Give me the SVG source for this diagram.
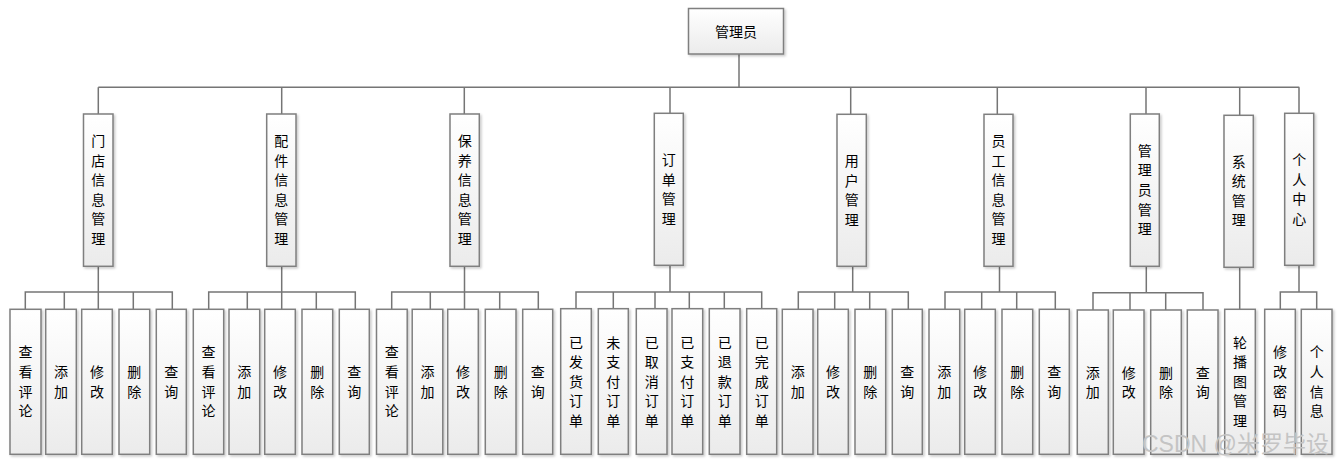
<svg xmlns="http://www.w3.org/2000/svg" width="1342" height="465" viewBox="0 0 1342 465">
<style>
.b{fill:url(#g);stroke:#7f7f7f;stroke-width:1.5;filter:url(#sh)}
.t{font-family:"Noto Sans CJK SC",sans-serif;font-size:14px;fill:#000;text-anchor:middle}
.c{fill:none;stroke:#757575;stroke-width:1.5}
.w{font-family:"Liberation Sans","Noto Sans CJK SC",sans-serif;font-size:23px;fill:#c4c4c4}
</style>
<defs>
<linearGradient id="g" x1="0" y1="0" x2="0" y2="1"><stop offset="0" stop-color="#ffffff"/><stop offset="1" stop-color="#ebebeb"/></linearGradient>
<filter id="sh" x="-30%" y="-10%" width="160%" height="130%"><feDropShadow dx="1.5" dy="1.5" stdDeviation="1" flood-color="#000" flood-opacity="0.22"/></filter>
</defs>
<rect width="1342" height="465" fill="#fff"/>
<g id="connectors" class="c">
<path class="c" d="M739 54V87.3M98.3 87.3H1299.3M98.3 87.3V114M281.7 87.3V114M464.3 87.3V114M670 87.3V113.3M850.7 87.3V114.3M997.3 87.3V114.3M1146 87.3V114M1239.7 87.3V115.3M1299 87.3V113.3"/>
<path class="c" d="M98.3 266.3V309.3M25.3 309.3V292H172.3V309.3M64.3 292V309.3M133.3 292V309.3"/>
<path class="c" d="M281.7 266.3V309.3M208.7 309.3V292H355.3V309.3M247.3 292V309.3M316.3 292V309.3"/>
<path class="c" d="M464.5 266.3V309.3M391.7 309.3V292H538.3V309.3M430.3 292V309.3M499.7 292V309.3"/>
<path class="c" d="M670 265.3V292M576 308.7V292H761.7V308.7M613.3 292V308.7M655 292V308.7M689.3 292V308.7M724.3 292V308.7"/>
<path class="c" d="M852.7 266.3V292M798.3 309.3V292H908.3V309.3M834.7 292V309.3M869.7 292V309.3"/>
<path class="c" d="M999.5 266.3V292M945 309.3V292H1055.3V309.3M981.7 292V309.3M1016.7 292V309.3"/>
<path class="c" d="M1146.3 266.3V292.7M1093 310V292.7H1203V310M1130 292.7V310M1165.7 292.7V310"/>
<path class="c" d="M1239.7 267.3V309.3"/>
<path class="c" d="M1299 265.3V292M1280.3 309.3V292H1316.7V309.3"/>
</g>
<g id="root"><rect class="b" x="688.5" y="8.5" width="95" height="45.5"/><text class="t" x="736" y="36.7">管理员</text></g>

<g id="n-mendian"><rect class="b" x="83.5" y="114" width="29.5" height="152.3"/><text class="t" x="98.25" y="146">门<tspan x="98.25" dy="19.6">店</tspan><tspan x="98.25" dy="19.6">信</tspan><tspan x="98.25" dy="19.6">息</tspan><tspan x="98.25" dy="19.6">管</tspan><tspan x="98.25" dy="19.6">理</tspan></text></g>
<g id="n-peijian"><rect class="b" x="266.7" y="114" width="29.3" height="152.3"/><text class="t" x="281.35" y="146">配<tspan x="281.35" dy="19.6">件</tspan><tspan x="281.35" dy="19.6">信</tspan><tspan x="281.35" dy="19.6">息</tspan><tspan x="281.35" dy="19.6">管</tspan><tspan x="281.35" dy="19.6">理</tspan></text></g>
<g id="n-baoyang"><rect class="b" x="450" y="114" width="29.3" height="152.3"/><text class="t" x="464.65" y="146">保<tspan x="464.65" dy="19.6">养</tspan><tspan x="464.65" dy="19.6">信</tspan><tspan x="464.65" dy="19.6">息</tspan><tspan x="464.65" dy="19.6">管</tspan><tspan x="464.65" dy="19.6">理</tspan></text></g>
<g id="n-dingdan"><rect class="b" x="654.3" y="113.3" width="29" height="152"/><text class="t" x="668.8" y="165.1">订<tspan x="668.8" dy="19.6">单</tspan><tspan x="668.8" dy="19.6">管</tspan><tspan x="668.8" dy="19.6">理</tspan></text></g>
<g id="n-yonghu"><rect class="b" x="837" y="114.3" width="29.3" height="152"/><text class="t" x="851.65" y="166">用<tspan x="851.65" dy="19.6">户</tspan><tspan x="851.65" dy="19.6">管</tspan><tspan x="851.65" dy="19.6">理</tspan></text></g>
<g id="n-yuangong"><rect class="b" x="984" y="114.3" width="29" height="152"/><text class="t" x="998.5" y="146">员<tspan x="998.5" dy="19.6">工</tspan><tspan x="998.5" dy="19.6">信</tspan><tspan x="998.5" dy="19.6">息</tspan><tspan x="998.5" dy="19.6">管</tspan><tspan x="998.5" dy="19.6">理</tspan></text></g>
<g id="n-guanliyuan"><rect class="b" x="1130.3" y="114" width="29" height="152.3"/><text class="t" x="1144.8" y="155.8">管<tspan x="1144.8" dy="19.6">理</tspan><tspan x="1144.8" dy="19.6">员</tspan><tspan x="1144.8" dy="19.6">管</tspan><tspan x="1144.8" dy="19.6">理</tspan></text></g>
<g id="n-xitong"><rect class="b" x="1224" y="115.3" width="29.3" height="152"/><text class="t" x="1238.65" y="166.5">系<tspan x="1238.65" dy="19.6">统</tspan><tspan x="1238.65" dy="19.6">管</tspan><tspan x="1238.65" dy="19.6">理</tspan></text></g>
<g id="n-geren"><rect class="b" x="1284.7" y="113.3" width="29" height="152"/><text class="t" x="1299.2" y="165">个<tspan x="1299.2" dy="19.6">人</tspan><tspan x="1299.2" dy="19.6">中</tspan><tspan x="1299.2" dy="19.6">心</tspan></text></g>

<g id="g1-1"><rect class="b" x="10" y="309.3" width="31" height="145"/><text class="t" x="25.5" y="357.4">查<tspan x="25.5" dy="19.6">看</tspan><tspan x="25.5" dy="19.6">评</tspan><tspan x="25.5" dy="19.6">论</tspan></text></g>
<g id="g1-2"><rect class="b" x="45.7" y="309.3" width="30.6" height="145"/><text class="t" x="61" y="377">添<tspan x="61" dy="19.6">加</tspan></text></g>
<g id="g1-3"><rect class="b" x="81.7" y="309.3" width="30.6" height="145"/><text class="t" x="97" y="377">修<tspan x="97" dy="19.6">改</tspan></text></g>
<g id="g1-4"><rect class="b" x="119" y="309.3" width="30.7" height="145"/><text class="t" x="134.35" y="377">删<tspan x="134.35" dy="19.6">除</tspan></text></g>
<g id="g1-5"><rect class="b" x="156.3" y="309.3" width="30" height="145"/><text class="t" x="171.3" y="377">查<tspan x="171.3" dy="19.6">询</tspan></text></g>

<g id="g2-1"><rect class="b" x="193.3" y="309.3" width="30.4" height="145"/><text class="t" x="208.5" y="357.4">查<tspan x="208.5" dy="19.6">看</tspan><tspan x="208.5" dy="19.6">评</tspan><tspan x="208.5" dy="19.6">论</tspan></text></g>
<g id="g2-2"><rect class="b" x="229" y="309.3" width="30.7" height="145"/><text class="t" x="244.35" y="377">添<tspan x="244.35" dy="19.6">加</tspan></text></g>
<g id="g2-3"><rect class="b" x="264.7" y="309.3" width="30.6" height="145"/><text class="t" x="280" y="377">修<tspan x="280" dy="19.6">改</tspan></text></g>
<g id="g2-4"><rect class="b" x="302" y="309.3" width="30.7" height="145"/><text class="t" x="317.35" y="377">删<tspan x="317.35" dy="19.6">除</tspan></text></g>
<g id="g2-5"><rect class="b" x="339.3" y="309.3" width="30" height="145"/><text class="t" x="354.3" y="377">查<tspan x="354.3" dy="19.6">询</tspan></text></g>

<g id="g3-1"><rect class="b" x="376.5" y="309.3" width="30.7" height="145"/><text class="t" x="391.85" y="357.4">查<tspan x="391.85" dy="19.6">看</tspan><tspan x="391.85" dy="19.6">评</tspan><tspan x="391.85" dy="19.6">论</tspan></text></g>
<g id="g3-2"><rect class="b" x="412.2" y="309.3" width="30.6" height="145"/><text class="t" x="427.5" y="377">添<tspan x="427.5" dy="19.6">加</tspan></text></g>
<g id="g3-3"><rect class="b" x="447.7" y="309.3" width="30.6" height="145"/><text class="t" x="463" y="377">修<tspan x="463" dy="19.6">改</tspan></text></g>
<g id="g3-4"><rect class="b" x="485.3" y="309.3" width="30.7" height="145"/><text class="t" x="500.65" y="377">删<tspan x="500.65" dy="19.6">除</tspan></text></g>
<g id="g3-5"><rect class="b" x="522.7" y="309.3" width="30" height="145"/><text class="t" x="537.7" y="377">查<tspan x="537.7" dy="19.6">询</tspan></text></g>

<g id="g4-1"><rect class="b" x="560.7" y="308.7" width="30.6" height="145.6"/><text class="t" x="576" y="347.6">已<tspan x="576" dy="19.6">发</tspan><tspan x="576" dy="19.6">货</tspan><tspan x="576" dy="19.6">订</tspan><tspan x="576" dy="19.6">单</tspan></text></g>
<g id="g4-2"><rect class="b" x="598.3" y="308.7" width="30" height="145.6"/><text class="t" x="613.3" y="347.6">未<tspan x="613.3" dy="19.6">支</tspan><tspan x="613.3" dy="19.6">付</tspan><tspan x="613.3" dy="19.6">订</tspan><tspan x="613.3" dy="19.6">单</tspan></text></g>
<g id="g4-3"><rect class="b" x="636.3" y="308.7" width="30.7" height="145.6"/><text class="t" x="651.65" y="347.6">已<tspan x="651.65" dy="19.6">取</tspan><tspan x="651.65" dy="19.6">消</tspan><tspan x="651.65" dy="19.6">订</tspan><tspan x="651.65" dy="19.6">单</tspan></text></g>
<g id="g4-4"><rect class="b" x="672" y="308.7" width="30.7" height="145.6"/><text class="t" x="687.35" y="347.6">已<tspan x="687.35" dy="19.6">支</tspan><tspan x="687.35" dy="19.6">付</tspan><tspan x="687.35" dy="19.6">订</tspan><tspan x="687.35" dy="19.6">单</tspan></text></g>
<g id="g4-5"><rect class="b" x="709.3" y="308.7" width="30.7" height="145.6"/><text class="t" x="724.65" y="347.6">已<tspan x="724.65" dy="19.6">退</tspan><tspan x="724.65" dy="19.6">款</tspan><tspan x="724.65" dy="19.6">订</tspan><tspan x="724.65" dy="19.6">单</tspan></text></g>
<g id="g4-6"><rect class="b" x="746.7" y="308.7" width="30" height="145.6"/><text class="t" x="761.7" y="347.6">已<tspan x="761.7" dy="19.6">完</tspan><tspan x="761.7" dy="19.6">成</tspan><tspan x="761.7" dy="19.6">订</tspan><tspan x="761.7" dy="19.6">单</tspan></text></g>

<g id="g5-1"><rect class="b" x="782.3" y="309.3" width="30.7" height="145"/><text class="t" x="797.65" y="377">添<tspan x="797.65" dy="19.6">加</tspan></text></g>
<g id="g5-2"><rect class="b" x="817.7" y="309.3" width="30.6" height="145"/><text class="t" x="833" y="377">修<tspan x="833" dy="19.6">改</tspan></text></g>
<g id="g5-3"><rect class="b" x="855" y="309.3" width="30.7" height="145"/><text class="t" x="870.35" y="377">删<tspan x="870.35" dy="19.6">除</tspan></text></g>
<g id="g5-4"><rect class="b" x="892.3" y="309.3" width="30" height="145"/><text class="t" x="907.3" y="377">查<tspan x="907.3" dy="19.6">询</tspan></text></g>

<g id="g6-1"><rect class="b" x="929" y="309.3" width="30.7" height="145"/><text class="t" x="944.35" y="377">添<tspan x="944.35" dy="19.6">加</tspan></text></g>
<g id="g6-2"><rect class="b" x="964.7" y="309.3" width="30.6" height="145"/><text class="t" x="980" y="377">修<tspan x="980" dy="19.6">改</tspan></text></g>
<g id="g6-3"><rect class="b" x="1002" y="309.3" width="30.7" height="145"/><text class="t" x="1017.35" y="377">删<tspan x="1017.35" dy="19.6">除</tspan></text></g>
<g id="g6-4"><rect class="b" x="1039.3" y="309.3" width="30" height="145"/><text class="t" x="1054.3" y="377">查<tspan x="1054.3" dy="19.6">询</tspan></text></g>

<g id="g7-1"><rect class="b" x="1077.3" y="310" width="31" height="144.3"/><text class="t" x="1092.8" y="377.5">添<tspan x="1092.8" dy="19.6">加</tspan></text></g>
<g id="g7-2"><rect class="b" x="1113.3" y="310" width="30.7" height="144.3"/><text class="t" x="1128.65" y="377.5">修<tspan x="1128.65" dy="19.6">改</tspan></text></g>
<g id="g7-3"><rect class="b" x="1150.7" y="310" width="30.6" height="144.3"/><text class="t" x="1166" y="377.5">删<tspan x="1166" dy="19.6">除</tspan></text></g>
<g id="g7-4"><rect class="b" x="1187.3" y="310" width="30.7" height="144.3"/><text class="t" x="1202.65" y="377.5">查<tspan x="1202.65" dy="19.6">询</tspan></text></g>

<g id="g8-1"><rect class="b" x="1224.7" y="309.3" width="30.6" height="145"/><text class="t" x="1240" y="347.6">轮<tspan x="1240" dy="19.6">播</tspan><tspan x="1240" dy="19.6">图</tspan><tspan x="1240" dy="19.6">管</tspan><tspan x="1240" dy="19.6">理</tspan></text></g>

<g id="g9-1"><rect class="b" x="1264.7" y="309.3" width="30.6" height="145"/><text class="t" x="1280" y="357.4">修<tspan x="1280" dy="19.6">改</tspan><tspan x="1280" dy="19.6">密</tspan><tspan x="1280" dy="19.6">码</tspan></text></g>
<g id="g9-2"><rect class="b" x="1301.3" y="309.3" width="30.7" height="145"/><text class="t" x="1316.65" y="357.4">个<tspan x="1316.65" dy="19.6">人</tspan><tspan x="1316.65" dy="19.6">信</tspan><tspan x="1316.65" dy="19.6">息</tspan></text></g>

<text class="w" x="1142" y="452">CSDN @米罗毕设</text>
</svg>
